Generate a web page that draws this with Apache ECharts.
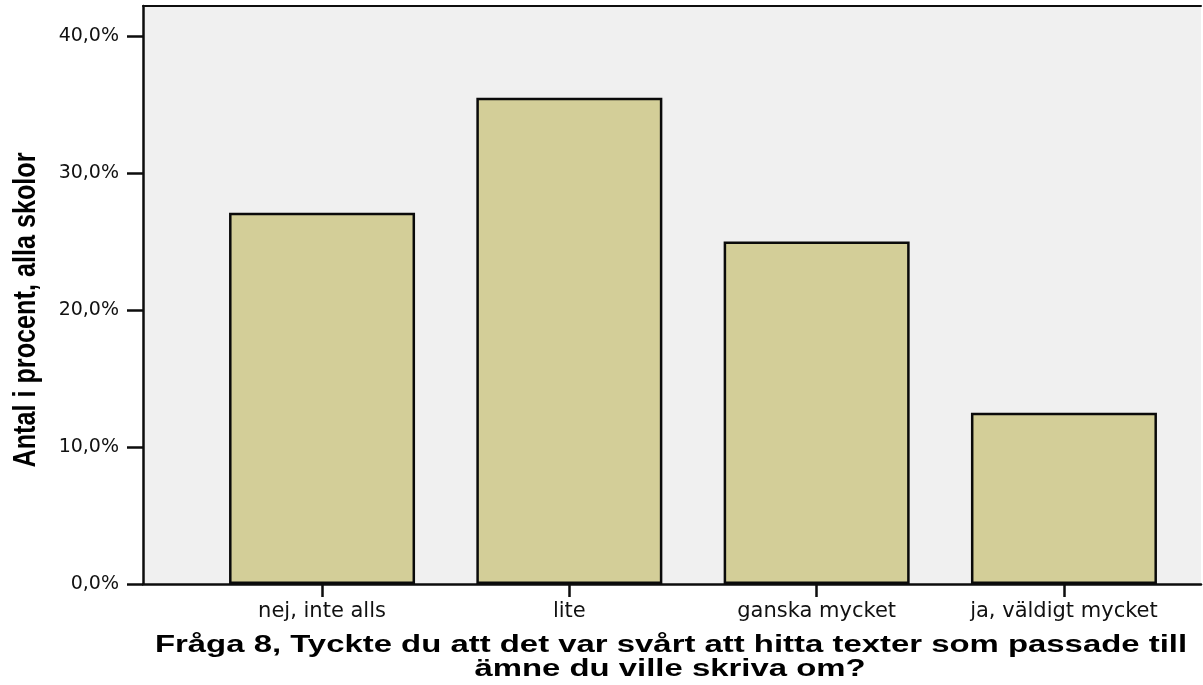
<!DOCTYPE html>
<html>
<head>
<meta charset="utf-8">
<script src="https://cdn.jsdelivr.net/npm/echarts@6/dist/echarts.min.js"></script>
<style>
  html, body { margin: 0; padding: 0; background: #ffffff; }
  #chart { width: 1203px; height: 685px; }
</style>
</head>
<body>
<div id="chart"></div>
<script>
const categories = ['nej, inte alls', 'lite', 'ganska mycket', 'ja, väldigt mycket'];
const values = [27.1, 35.5, 25.0, 12.5];
const yMin = 0;
const yMax = 42.2;
const yInterval = 10;
const xTitleLine1 = 'Fråga 8, Tyckte du att det var svårt att hitta texter som passade till';
const xTitleLine2 = 'ämne du ville skriva om?';
const yTitle = 'Antal i procent, alla skolor';

const fmtPct = v => v.toFixed(1).replace('.', ',') + '%';

const chart = echarts.init(document.getElementById('chart'), null, { renderer: 'canvas' });

const gridTop = 6, gridBottom = 101;

chart.setOption({
  animation: false,
  backgroundColor: '#ffffff',
  grid: [
    { left: 143, right: 2, top: gridTop, bottom: gridBottom, show: true, backgroundColor: '#f0f0f0', borderWidth: 0 },
    { left: 198.4, right: 15.4, top: gridTop, bottom: gridBottom }
  ],
  xAxis: [
    { type: 'value', gridIndex: 0, min: 0, max: 1, position: 'bottom',
      axisLine: { show: true, onZero: false, lineStyle: { color: '#0d0d0d', width: 2.5 } },
      axisTick: { show: false }, axisLabel: { show: false }, splitLine: { show: false } },
    { type: 'value', gridIndex: 0, min: 0, max: 1, position: 'top',
      axisLine: { show: true, onZero: false, lineStyle: { color: '#0d0d0d', width: 2 } },
      axisTick: { show: false }, axisLabel: { show: false }, splitLine: { show: false } },
    { type: 'category', gridIndex: 1, data: categories, position: 'bottom',
      axisLine: { show: false },
      axisTick: { show: true, alignWithLabel: true, length: 13, lineStyle: { color: '#0d0d0d', width: 2.5 } },
      axisLabel: { show: true, margin: 17, color: '#111', fontFamily: 'DejaVu Sans', fontSize: 21 },
      splitLine: { show: false } }
  ],
  yAxis: [
    { type: 'value', gridIndex: 0, min: yMin, max: yMax, interval: yInterval,
      axisLine: { show: true, onZero: false, lineStyle: { color: '#0d0d0d', width: 2.5 } },
      axisTick: { show: true, length: 16, lineStyle: { color: '#0d0d0d', width: 2.5 } },
      axisLabel: { show: true, margin: 24, color: '#111', fontFamily: 'DejaVu Sans', fontSize: 19,
        formatter: v => fmtPct(v), showMaxLabel: false },
      splitLine: { show: false } },
    { type: 'value', gridIndex: 1, min: yMin, max: yMax, interval: yInterval,
      show: false }
  ],
  series: [
    { type: 'bar', xAxisIndex: 2, yAxisIndex: 1, data: values, barWidth: 186,
      itemStyle: { color: '#d3ce98', borderColor: '#0a0a0a', borderWidth: 2.5 } }
  ],
  graphic: [
    { type: 'text', x: 671, y: 646, scaleX: 1.43, scaleY: 1,
      style: { text: xTitleLine1, fill: '#000', fontFamily: 'Liberation Sans', fontWeight: 'bold', fontSize: 23,
        align: 'center', verticalAlign: 'middle' } },
    { type: 'text', x: 670, y: 670, scaleX: 1.43, scaleY: 1,
      style: { text: xTitleLine2, fill: '#000', fontFamily: 'Liberation Sans', fontWeight: 'bold', fontSize: 23,
        align: 'center', verticalAlign: 'middle' } },
    { type: 'text', x: 26, y: 310, rotation: Math.PI / 2, scaleX: 1.05, scaleY: 1.33,
      style: { text: yTitle, fill: '#000', fontFamily: 'Liberation Sans', fontWeight: 'bold', fontSize: 24,
        align: 'center', verticalAlign: 'middle' } }
  ]
});
</script>
</body>
</html>
